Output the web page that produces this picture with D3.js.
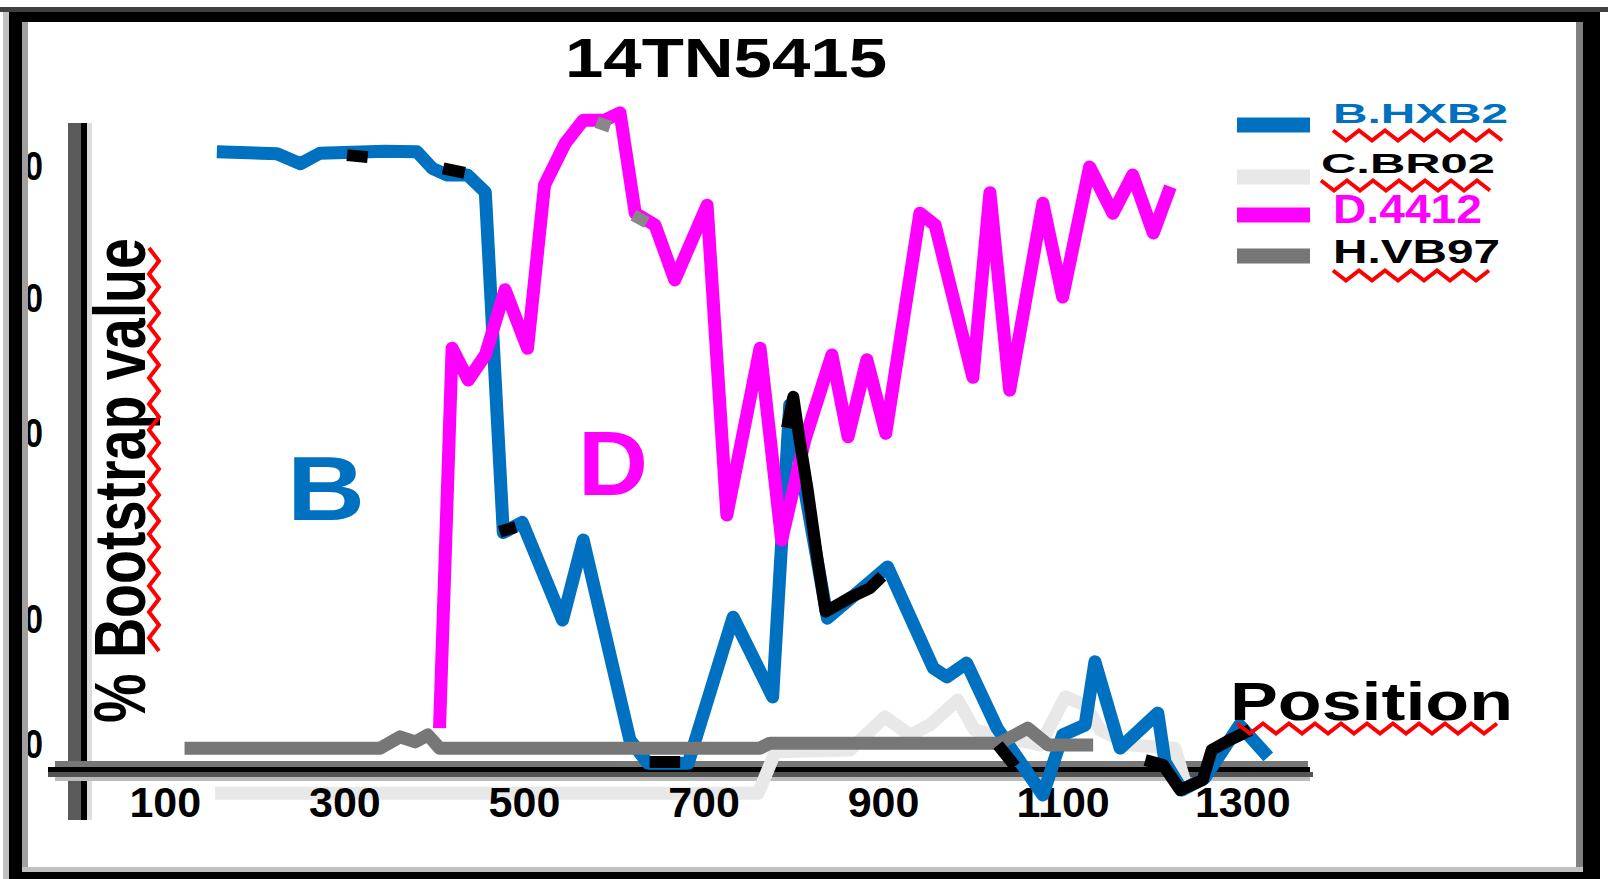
<!DOCTYPE html>
<html><head><meta charset="utf-8">
<script src="https://cdn.jsdelivr.net/npm/d3@7"></script>
<style>
html,body{margin:0;padding:0;background:#fff;}
svg{display:block;}
text{font-family:"Liberation Sans",Arial,Helvetica,sans-serif;font-weight:bold;}
</style></head><body>
<svg id="chart" width="1608" height="879"></svg>
<script>
// ---------------- data ----------------
const chartTitle = "14TN5415";
const seriesNames = ["B.HXB2", "C.BR02", "D.4412", "H.VB97"];
const seriesColors = ["#0070C0", "#E8E8E8", "#FF00FF", "#777777"];
const xTickValues = [100, 300, 500, 700, 900, 1100, 1300];
const yTickValues = [10, 30, 50, 70, 90];
const yAxisTitle = "% Bootstrap value";
const xAxisTitle = "Position";

// [position, bootstrap value]
const seriesB = [[158,92.3],[225,92.0],[251,90.5],[273,92.1],[345,92.4],[381,92.3],[398,89.8],[414,88.8],[437,88.8],[457,86.2],[477,39.4],[498,40.5],[543,30.0],[566,38.6],[618,10.8],[638,7.1],[683,7.1],[733,30.3],[777,17.7],[796,54.3],[838,30.2],[905,35.7],[956,22.3],[971,20.9],[993,23.1],[1027,12.7],[1078,2.0],[1100,11.6],[1125,13.2],[1136,23.3],[1164,9.5],[1206,15.1],[1214,7.3],[1233,2.8],[1258,4.7],[1297,13.2],[1329,8.1]];
const seriesC = [[156,2.3],[761,2.3],[780,8.9],[863,9.2],[902,14.5],[930,11.6],[952,13.2],[983,17.2],[1002,12.4],[1075,10.0],[1103,17.7],[1125,16.4],[1142,12.4],[1175,10.0],[1225,9.5],[1236,4.1]];
const seriesD = [[406,12.7],[420,62.7],[438,58.0],[457,61.7],[479,71.4],[504,62.7],[523,87.3],[546,93.6],[566,97.1],[590,97.1],[607,98.2],[624,83.0],[646,81.2],[668,72.9],[704,84.2],[726,41.3],[763,62.7],[787,38.6],[813,49.4],[843,61.7],[861,49.7],[882,61.0],[903,50.1],[941,83.0],[958,81.2],[1000,58.4],[1019,86.1],[1041,56.5],[1078,84.5],[1100,70.3],[1130,90.0],[1156,83.0],[1178,88.8],[1201,80.0],[1220,87.0]];
const seriesH = [[122,9.5],[340,9.5],[362,11.3],[379,10.5],[393,11.6],[406,9.5],[763,9.5],[774,10.3],[1030,10.3],[1061,12.7],[1084,10.0],[1134,10.0]];
// unlabelled black trace (visible fragments only)
const seriesBlack = [[303,91.8],[326,91.5],null,[410,89.8],[434,89.1],null,[473,39.5],[491,40.0],null,
  [793,50.9],[800,55.5],[807,49.4],[816,44.0],[827,36.5],[836,30.9],[863,32.4],[885,33.4],[899,34.7],null,
  [640,7.3],[674,7.3],null,[1028,10.0],[1047,6.6],null,
  [1192,7.6],[1212,6.8],[1231,2.8],[1256,4.4],[1266,9.2],[1286,10.8],[1309,12.4]];
const grayFragments = [[581,96.8],[596,96.1],null,[622,82.7],[637,81.6]];

// ---------------- drawing ----------------
const svg = d3.select("#chart");
svg.append("rect").attr("width",1608).attr("height",879).attr("fill","#fff");

const x = d3.scaleLinear().domain([0,1400]).range([75,1332]);
const y = d3.scaleLinear().domain([10,30,50,70,90]).range([745,620,434,299,167]);

// y axis line (gray + black)
svg.append("rect").attr("x",68).attr("y",123).attr("width",13).attr("height",697).attr("fill","#5a5a5a");
svg.append("rect").attr("x",81).attr("y",123).attr("width",6).attr("height",697).attr("fill","#000");
svg.append("rect").attr("x",87).attr("y",123).attr("width",5).attr("height",697).attr("fill","#ddd");
// x axis line
svg.append("rect").attr("x",55).attr("y",761).attr("width",1253).attr("height",6).attr("fill","#777");
svg.append("rect").attr("x",48).attr("y",767).attr("width",1262).attr("height",5).attr("fill","#000");
svg.append("rect").attr("x",48).attr("y",772).attr("width",1265).attr("height",5).attr("fill","#555");
svg.append("rect").attr("x",55).attr("y",777).attr("width",1255).attr("height",4).attr("fill","#bbb");

const gy = svg.append("g").attr("transform","translate(46,0)")
  .call(d3.axisLeft(y).tickValues(yTickValues).tickSize(0).tickPadding(3));
gy.select(".domain").remove();
gy.attr("font-family",null).attr("font-size",40);
gy.selectAll("text").attr("fill","#000").attr("textLength",37).attr("lengthAdjust","spacingAndGlyphs");

// lines
const line = d3.line().defined(d => d !== null).x(d => x(d[0])).y(d => y(d[1]));
function drawLine(data, color, w){
  svg.append("path").datum(data).attr("d", line).attr("fill","none")
    .attr("stroke", color).attr("stroke-width", w)
    .attr("stroke-linejoin","round").attr("stroke-linecap","butt");
}
drawLine(seriesC, seriesColors[1], 13);

// x tick labels (over the light trace)
const gx = svg.append("g").attr("transform","translate(0,786)")
  .call(d3.axisBottom(x).tickValues(xTickValues).tickSize(0).tickPadding(0).tickFormat(d3.format("d")));
gx.select(".domain").remove();
gx.attr("font-family",null).attr("font-size",43);
gx.selectAll("text").attr("fill","#000");

drawLine(seriesB, seriesColors[0], 13);
drawLine(seriesD, seriesColors[2], 13);
drawLine(seriesH, seriesColors[3], 13);
drawLine(grayFragments, "#888", 12);
drawLine(seriesBlack, "#000", 12);

// red spell-check squiggles
function zigH(x0, x1, yc){
  const pts = []; let up = true;
  for (let xx = x0; xx <= x1; xx += 13){ pts.push([xx, yc + (up ? -5 : 5)]); up = !up; }
  return d3.line()(pts);
}
function zigV(y0, y1, xc){
  const pts = []; let up = true;
  for (let yy = y0; yy <= y1; yy += 13){ pts.push([xc + (up ? -5 : 5), yy]); up = !up; }
  return d3.line()(pts);
}
function squig(d){
  svg.append("path").attr("d", d).attr("fill","none").attr("stroke","#FF0000").attr("stroke-width",4);
}

// title
svg.append("text").attr("x",565).attr("y",77).attr("font-size",56)
  .attr("textLength",322).attr("lengthAdjust","spacingAndGlyphs").text(chartTitle);

// y axis title
svg.append("text").attr("transform","translate(145,723) rotate(-90)").attr("font-size",72)
  .attr("textLength",485).attr("lengthAdjust","spacingAndGlyphs").text(yAxisTitle);
squig(zigV(248, 660, 154));

// x axis title
svg.append("text").attr("x",1230).attr("y",720).attr("font-size",54)
  .attr("textLength",283).attr("lengthAdjust","spacingAndGlyphs").text(xAxisTitle);
squig(zigH(1237, 1507, 728.5));

// region letters
svg.append("text").attr("x",287).attr("y",520).attr("font-size",91).attr("fill",seriesColors[0])
  .attr("textLength",78).attr("lengthAdjust","spacingAndGlyphs").text("B");
svg.append("text").attr("x",578).attr("y",495).attr("font-size",91).attr("fill",seriesColors[2])
  .attr("textLength",70).attr("lengthAdjust","spacingAndGlyphs").text("D");

// legend
const legendY = [125, 177, 215, 256];
const legendText = [
  {x:1333, y:123, fs:28, len:175, color:seriesColors[0], sq:true},
  {x:1321, y:173, fs:28, len:174, color:"#000", sq:true},
  {x:1333, y:223, fs:40, len:149, color:seriesColors[2], sq:false},
  {x:1333, y:263, fs:34, len:167, color:"#000", sq:true}
];
seriesNames.forEach((name, i) => {
  svg.append("line").attr("x1",1237).attr("x2",1310).attr("y1",legendY[i]).attr("y2",legendY[i])
    .attr("stroke", seriesColors[i]).attr("stroke-width",15);
  const t = legendText[i];
  svg.append("text").attr("x",t.x).attr("y",t.y).attr("font-size",t.fs).attr("fill",t.color)
    .attr("textLength",t.len).attr("lengthAdjust","spacingAndGlyphs").text(name);
  if (t.sq) squig(zigH(t.x, t.x + t.len, t.y + 12.5));
});

// frame
svg.append("rect").attr("x",0).attr("y",7).attr("width",1608).attr("height",5).attr("fill","#404040");
svg.append("rect").attr("x",3).attr("y",12).attr("width",6).attr("height",867).attr("fill","#c0c0c0");
svg.append("rect").attr("x",9).attr("y",12).attr("width",1591).attr("height",10).attr("fill","#000");
svg.append("rect").attr("x",9).attr("y",12).attr("width",13).attr("height",867).attr("fill","#000");
svg.append("rect").attr("x",22).attr("y",22).attr("width",6).attr("height",845).attr("fill","#a0a0a0");
svg.append("rect").attr("x",1583).attr("y",12).attr("width",17).attr("height",867).attr("fill","#000");
svg.append("rect").attr("x",1576).attr("y",22).attr("width",7).attr("height",845).attr("fill","#808080");
svg.append("rect").attr("x",9).attr("y",872).attr("width",1591).attr("height",7).attr("fill","#000");
svg.append("rect").attr("x",22).attr("y",867).attr("width",1561).attr("height",5).attr("fill","#c0c0c0");
</script>
</body></html>
